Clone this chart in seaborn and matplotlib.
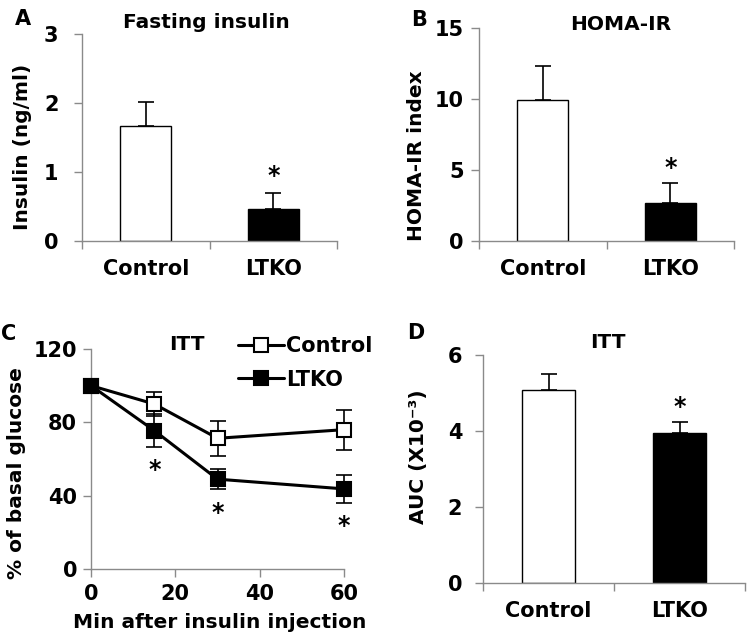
import numpy as np
import pandas as pd
import seaborn as sns
import matplotlib.pyplot as plt
from matplotlib.lines import Line2D

# data (mean, SE)
groups = ['Control', 'LTKO']
insulin_mean = [1.67, 0.47]
insulin_se = [0.34, 0.22]
homa_mean = [9.95, 2.71]
homa_se = [2.38, 1.37]
auc_mean = [5.08, 3.94]
auc_se = [0.43, 0.31]

itt_min = [0, 15, 30, 60]
itt_control = [100, 90, 71.3, 76]
itt_control_se = [0, 6.7, 9.5, 11]
itt_ltko = [100, 75.5, 49, 43.7]
itt_ltko_se = [0, 9, 5.6, 7.5]

# significance stars (y position of the asterisk)
star_insulin = 1.0
star_homa = 5.44
star_auc = 4.75
star_itt_x = [15, 30, 60]
star_itt_y = [56.4, 32.6, 25.9]

sns.set_style('ticks')
plt.rcParams['font.family'] = ['DejaVu Sans']
plt.rcParams['font.weight'] = 'bold'
plt.rcParams['text.color'] = 'black'
plt.rcParams['axes.labelcolor'] = 'black'

GRAY = '#8a8a8a'
W, H = 754, 641

fig = plt.figure(figsize=(W / 100, H / 100), dpi=100)


def px_axes(left, top, right, bottom):
    # axes from pixel box
    return fig.add_axes([left / W, 1 - bottom / H, (right - left) / W, (bottom - top) / H])


def star(ax, x, y):
    ax.annotate('*', (x, y), xytext=(0, -3), textcoords='offset points',
                ha='center', va='center', fontsize=17, fontweight='bold')


def style_axes(ax, ypad):
    sns.despine(ax=ax)
    for s in ['left', 'bottom']:
        ax.spines[s].set_color(GRAY)
        ax.spines[s].set_linewidth(1)
    ax.tick_params(axis='y', length=6, width=1, color=GRAY, labelcolor='black',
                   pad=ypad, labelsize=15)
    ax.set_xlabel('')
    ax.set_ylabel('')


def bar_panel(ax, means, ses, ymax, yticks, star_y, ypad):
    d = pd.DataFrame({'group': groups, 'value': means})
    sns.barplot(data=d, x='group', y='value', hue='group',
                palette=['white', 'black'], edgecolor='black', linewidth=1,
                width=0.4, legend=False, errorbar=None, ax=ax)
    xs = [p.get_x() + p.get_width() / 2 for p in ax.patches]
    ax.errorbar(xs, means, yerr=[np.zeros(len(ses)), ses], fmt='none',
                ecolor='black', elinewidth=1.2, capsize=5.5, capthick=1.2)
    star(ax, 1, star_y)
    ax.set_xlim(-0.5, 1.5)
    ax.set_ylim(0, ymax)
    ax.set_yticks(yticks)
    style_axes(ax, ypad)
    ax.set_xticks([-0.5, 0.5, 1.5], minor=True)
    ax.tick_params(axis='x', which='major', length=0, pad=13, labelsize=15,
                   labelcolor='black')
    ax.tick_params(axis='x', which='minor', length=6, width=1, color=GRAY)


# A: fasting insulin
axA = px_axes(82, 34, 337, 241)
bar_panel(axA, insulin_mean, insulin_se, 3, [0, 1, 2, 3], star_insulin, 11)

# B: HOMA-IR
axB = px_axes(479, 28, 734, 241)
bar_panel(axB, homa_mean, homa_se, 15, [0, 5, 10, 15], star_homa, 5)

# D: AUC
axD = px_axes(483, 355, 745, 583)
bar_panel(axD, auc_mean, auc_se, 6, [0, 2, 4, 6], star_auc, 9)

# C: ITT curve
axC = px_axes(91, 349, 344, 569)
for vals, se, face in [(itt_control, itt_control_se, 'white'),
                       (itt_ltko, itt_ltko_se, 'black')]:
    axC.errorbar(itt_min, vals, yerr=se, fmt='none', ecolor='black',
                 elinewidth=1.2, capsize=5.5, capthick=1.2, clip_on=False, zorder=2)
    sns.lineplot(x=itt_min, y=vals, color='black', lw=2.2, marker='s',
                 markersize=9.5, markerfacecolor=face, markeredgecolor='black',
                 markeredgewidth=1.5, clip_on=False, zorder=3, ax=axC)
for sx, sy in zip(star_itt_x, star_itt_y):
    star(axC, sx, sy)
axC.set_xlim(0, 60)
axC.set_ylim(0, 120)
axC.set_xticks([0, 20, 40, 60])
axC.set_yticks([0, 40, 80, 120])
style_axes(axC, 4)
axC.tick_params(axis='x', length=6, width=1, color=GRAY, labelcolor='black',
                pad=5, labelsize=15)

handles = [Line2D([], [], color='black', lw=2.2, marker='s', markersize=9.5,
                  markerfacecolor=f, markeredgecolor='black', markeredgewidth=1.5)
           for f in ['white', 'black']]
fig.legend(handles, groups, loc='upper left', bbox_to_anchor=(238 / W, 1 - 336 / H),
           frameon=False, fontsize=15, handlelength=2.2, handletextpad=0.1,
           labelspacing=0.65, borderpad=0, borderaxespad=0)

# titles, axis labels and panel letters
def ftext(x, y, s, size=14.5, rot=0):
    fig.text(x / W, 1 - y / H, s, ha='center', va='center', fontsize=size,
             fontweight='bold', rotation=rot)

ftext(206, 22, 'Fasting insulin')
ftext(621, 24, 'HOMA-IR')
ftext(187, 344, 'ITT')
ftext(608, 342, 'ITT')

ftext(23, 147, 'Insulin (ng/ml)', rot=90)
ftext(417, 156, 'HOMA-IR index', rot=90)
ftext(17, 473, '% of basal glucose', rot=90)
ftext(418, 457, 'AUC (X10⁻³)', rot=90)
ftext(220, 622, 'Min after insulin injection')

ftext(23, 19, 'A', size=15)
ftext(419, 20, 'B', size=15)
ftext(9, 334, 'C', size=15)
ftext(416, 333, 'D', size=15)

fig.savefig('out.png', dpi=100)
